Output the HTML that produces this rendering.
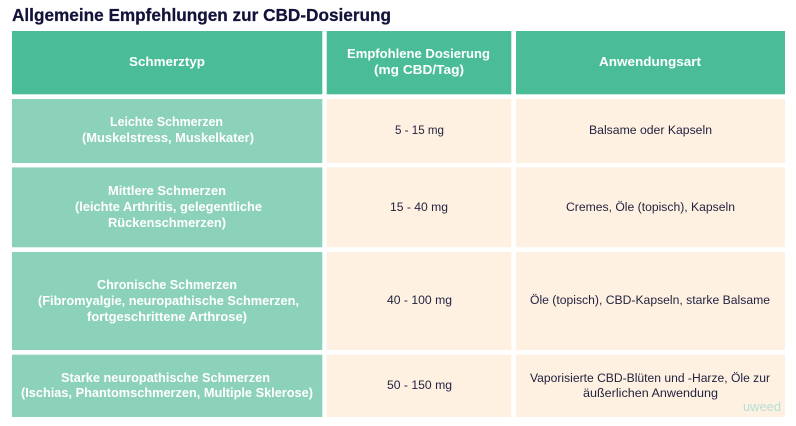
<!DOCTYPE html>
<html lang="de">
<head>
<meta charset="utf-8">
<title>Allgemeine Empfehlungen zur CBD-Dosierung</title>
<style>
html,body{margin:0;padding:0;background:#fff;width:796px;height:426px;overflow:hidden}
svg{display:block}
text{font-family:"Liberation Sans",sans-serif}
.h{fill:#fff;font-weight:700;font-size:13px}
.b{fill:#23233f;font-size:12.3px}
.hc{fill:#4abd98}.lc{fill:#8cd1b9}.pc{fill:#fef1e2}
</style>
</head>
<body>
<svg width="796" height="426" viewBox="0 0 796 426" xmlns="http://www.w3.org/2000/svg">
<rect x="0" y="0" width="796" height="426" fill="#fff"/>
<text x="12" y="21" textLength="379" lengthAdjust="spacingAndGlyphs" font-size="17.5" font-weight="700" fill="#12123a" stroke="#12123a" stroke-width="0.25">Allgemeine Empfehlungen zur CBD-Dosierung</text>

<g>
<rect class="hc" x="12" y="31" width="310.3" height="63.3"/>
<rect class="hc" x="326.7" y="31" width="184.6" height="63.3"/>
<rect class="hc" x="516" y="31" width="269" height="63.3"/>
<text class="h" x="129" y="66" textLength="76" lengthAdjust="spacingAndGlyphs">Schmerztyp</text>
<text class="h" x="347" y="58" textLength="143" lengthAdjust="spacingAndGlyphs">Empfohlene Dosierung</text>
<text class="h" x="374" y="74" textLength="90" lengthAdjust="spacingAndGlyphs">(mg CBD/Tag)</text>
<text class="h" x="599" y="66" textLength="102" lengthAdjust="spacingAndGlyphs">Anwendungsart</text>
</g>

<g>
<rect class="lc" x="12" y="99" width="310.3" height="64"/>
<rect class="pc" x="326.7" y="99" width="184.6" height="64"/>
<rect class="pc" x="516" y="99" width="269" height="64"/>
<text class="h" x="110" y="126" textLength="113" lengthAdjust="spacingAndGlyphs">Leichte Schmerzen</text>
<text class="h" x="82" y="142" textLength="172" lengthAdjust="spacingAndGlyphs">(Muskelstress, Muskelkater)</text>
<text class="b" x="395" y="134" textLength="49" lengthAdjust="spacingAndGlyphs">5 - 15 mg</text>
<text class="b" x="589" y="134" textLength="123" lengthAdjust="spacingAndGlyphs">Balsame oder Kapseln</text>
</g>

<g>
<rect class="lc" x="12" y="167.4" width="310.3" height="79.9"/>
<rect class="pc" x="326.7" y="167.4" width="184.6" height="79.9"/>
<rect class="pc" x="516" y="167.4" width="269" height="79.9"/>
<text class="h" x="108" y="195" textLength="118" lengthAdjust="spacingAndGlyphs">Mittlere Schmerzen</text>
<text class="h" x="75" y="211" textLength="187" lengthAdjust="spacingAndGlyphs">(leichte Arthritis, gelegentliche</text>
<text class="h" x="108" y="227" textLength="118" lengthAdjust="spacingAndGlyphs">Rückenschmerzen)</text>
<text class="b" x="390" y="211" textLength="58" lengthAdjust="spacingAndGlyphs">15 - 40 mg</text>
<text class="b" x="566" y="211" textLength="169" lengthAdjust="spacingAndGlyphs">Cremes, Öle (topisch), Kapseln</text>
</g>

<g>
<rect class="lc" x="12" y="252" width="310.3" height="98"/>
<rect class="pc" x="326.7" y="252" width="184.6" height="98"/>
<rect class="pc" x="516" y="252" width="269" height="98"/>
<text class="h" x="97" y="289" textLength="140" lengthAdjust="spacingAndGlyphs">Chronische Schmerzen</text>
<text class="h" x="38" y="305" textLength="261" lengthAdjust="spacingAndGlyphs">(Fibromyalgie, neuropathische Schmerzen,</text>
<text class="h" x="87" y="321" textLength="160" lengthAdjust="spacingAndGlyphs">fortgeschrittene Arthrose)</text>
<text class="b" x="387" y="304" textLength="65" lengthAdjust="spacingAndGlyphs">40 - 100 mg</text>
<text class="b" x="530" y="304" textLength="240" lengthAdjust="spacingAndGlyphs">Öle (topisch), CBD-Kapseln, starke Balsame</text>
</g>

<g>
<rect class="lc" x="12" y="354.7" width="310.3" height="62.3"/>
<rect class="pc" x="326.7" y="354.7" width="184.6" height="62.3"/>
<rect class="pc" x="516" y="354.7" width="269" height="62.3"/>
<text class="h" x="61" y="382" textLength="209" lengthAdjust="spacingAndGlyphs">Starke neuropathische Schmerzen</text>
<text class="h" x="21" y="397" textLength="292" lengthAdjust="spacingAndGlyphs">(Ischias, Phantomschmerzen, Multiple Sklerose)</text>
<text class="b" x="387" y="389" textLength="65" lengthAdjust="spacingAndGlyphs">50 - 150 mg</text>
<text class="b" x="530" y="382" textLength="240" lengthAdjust="spacingAndGlyphs">Vaporisierte CBD-Blüten und -Harze, Öle zur</text>
<text class="b" x="583" y="397" textLength="135" lengthAdjust="spacingAndGlyphs">äußerlichen Anwendung</text>
</g>

<text x="743" y="411" textLength="38" lengthAdjust="spacingAndGlyphs" font-size="13" fill="#b4e0d2">uweed</text>
</svg>
</body>
</html>
